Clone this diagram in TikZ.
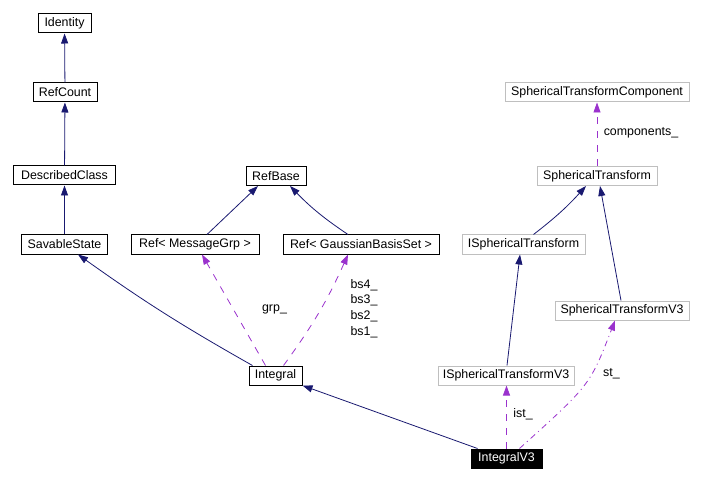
\documentclass[tikz,border=0pt]{standalone}
\usepackage{fontspec}
\setmainfont{Liberation Sans}
\usepackage{xcolor}
\usepackage{tikz}
\usetikzlibrary{arrows.meta, positioning}
\definecolor{inhblue}{RGB}{25, 25, 112}
\definecolor{usepurple}{RGB}{154, 50, 205}
\definecolor{refgrey}{RGB}{191, 191, 191}

\begin{document}
\begin{tikzpicture}[
          x=1bp, y=-1bp,
          classbox/.style={rectangle, draw=black, fill=white, line width=1bp, inner sep=0pt, minimum height=19bp, font=\fontsize{12.4bp}{14bp}\selectfont},
          greybox/.style={classbox, draw=refgrey},
          focusbox/.style={classbox, fill=black, text=white},
          edgelabel/.style={inner sep=0pt, align=left, font=\fontsize{12.4bp}{15.7bp}\selectfont},
          inh/.style={-{Triangle[length=10bp, width=7bp]}, draw=inhblue, line width=0.8bp},
          usage/.style={-{Triangle[length=10bp, width=7bp]}, draw=usepurple, line width=0.8bp, dash pattern=on 7bp off 7bp},
          usagedot/.style={usage, dash pattern=on 6bp off 4bp on 1bp off 4bp}
        ]
          \useasboundingbox (0,0) rectangle (702,481);

          \node[classbox, minimum width=53bp] (identity) at (64.5,23.5) {Identity};
          \node[classbox, minimum width=64bp] (refcount) at (65,92.5) {RefCount};
          \node[classbox, minimum width=101bp] (described) at (64.5,175.5) {DescribedClass};
          \node[classbox, minimum width=85bp] (savable) at (64.5,244.5) {SavableState};
          \node[classbox, minimum width=128bp] (refmsg) at (195,244.5) {Ref< MessageGrp >};
          \node[classbox, minimum width=60bp] (refbase) at (276,176) {RefBase};
          \node[classbox, minimum width=156bp] (refgbs) at (361,244.5) {Ref< GaussianBasisSet >};
          \node[classbox, minimum width=53bp] (integral) at (275.5,375.5) {Integral};
          \node[focusbox, minimum width=71bp] (integralv3) at (506.5,458.5) {IntegralV3};
          \node[greybox, minimum width=136bp] (istv3) at (506,375.5) {ISphericalTransformV3};
          \node[greybox, minimum width=184bp] (stcomp) at (597,92.5) {SphericalTransformComponent};
          \node[greybox, minimum width=120bp] (st) at (597,176) {SphericalTransform};
          \node[greybox, minimum width=123bp] (ist) at (523.5,244.5) {ISphericalTransform};
          \node[greybox, minimum width=134bp] (stv3) at (622,310.5) {SphericalTransformV3};

          \draw[inh] (refcount) -- (identity);
          \draw[inh] (described) -- (refcount);
          \draw[inh] (savable) -- (described);
          \draw[inh] ([xshift=4bp]integral.north west) to[bend left=3] ([xshift=13.5bp]savable.south);
          \draw[inh] ([xshift=12bp]refmsg.north) -- ([xshift=-18bp]refbase.south);
          \draw[inh] ([xshift=-13bp]refgbs.north) to[bend left=6] ([xshift=14bp]refbase.south);
          \draw[inh] ([xshift=7bp]integralv3.north west) -- (integral.south east);
          \draw[inh] ([xshift=1bp]istv3.north) -- ([xshift=-3.5bp]ist.south);
          \draw[inh] ([xshift=10bp]ist.north) to[bend right=5] ([xshift=-11bp]st.south);
          \draw[inh] ([xshift=-1bp]stv3.north) -- ([xshift=3bp]st.south);

          \draw[usage] ([xshift=-10bp]integral.north) -- ([xshift=7bp]refmsg.south);
          \draw[usage] ([xshift=8bp]integral.north) to[bend right=6] ([xshift=-13bp]refgbs.south);
          \draw[usage] (integralv3.north) -- (integralv3.north |- istv3.south);
          \draw[usagedot] ([xshift=13bp]integralv3.north) .. controls (590,385) .. ([xshift=-7bp]stv3.south);
          \draw[usage] (st.north) -- (stcomp.south);

          \node[edgelabel] (grplbl) at (274.5,309) {grp\_};
          \node[edgelabel] (bslbl) at (364,308.5) {bs4\_\\bs3\_\\bs2\_\\bs1\_};
          \node[edgelabel] (complbl) at (641,133) {components\_};
          \node[edgelabel] (stlbl) at (611.5,374) {st\_};
          \node[edgelabel] (istlbl) at (523,414) {ist\_};
        \end{tikzpicture}
\end{document}
